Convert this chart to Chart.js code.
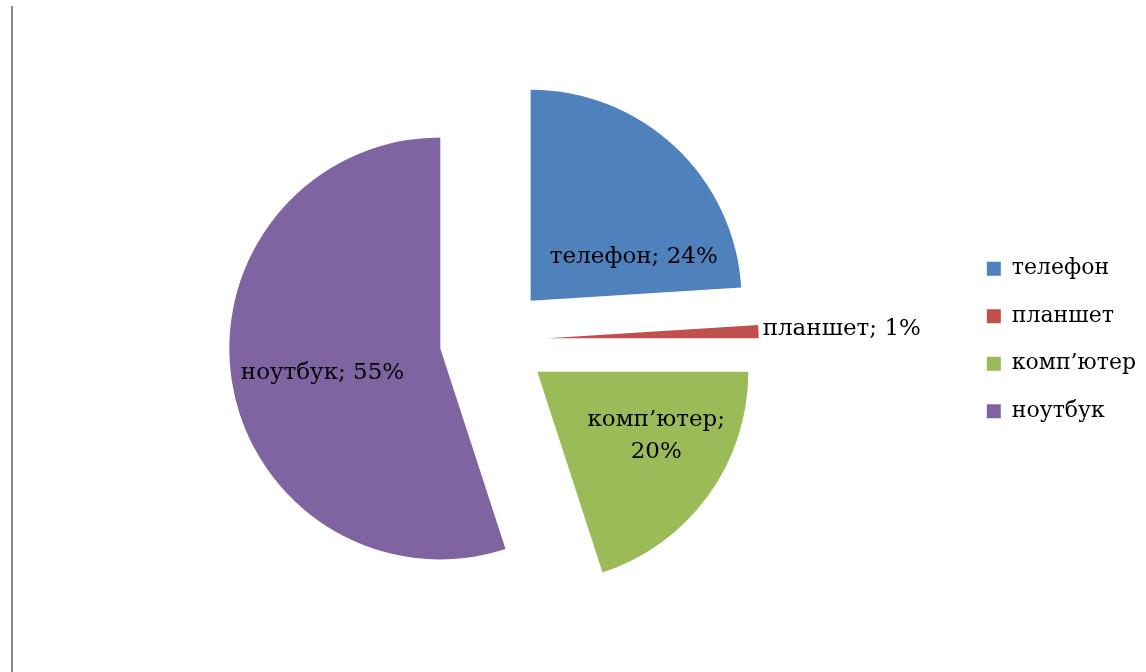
<!DOCTYPE html>
<html>
<head>
<meta charset="utf-8">
<script src="https://cdn.jsdelivr.net/npm/chart.js@4.4.1/dist/chart.umd.min.js"></script>
<style>
    html, body { margin: 0; padding: 0; background: #fff; }
    #wrap { position: relative; width: 1146px; height: 672px; }
    #frame { position: absolute; left: 11px; top: 6px; bottom: 0; width: 2px; background: #898989; }
    #chart { position: absolute; left: 0; top: 0; }
</style>
</head>
<body>
<div id="wrap">
    <div id="frame"></div>
    <canvas id="chart" width="1146" height="672"></canvas>
</div>
<script>
const categories = ['телефон', 'планшет', 'комп’ютер', 'ноутбук'];
const shares = [24, 1, 20, 55]; // %
const colors = ['#4f81bd', '#c0504d', '#9bbb59', '#8064a2'];

const EXPLODE = 54; // px, every slice pulled out of the centre
const FONT = '"DejaVu Serif", serif';

// where each data label sits: angle clockwise from 12 o'clock, distance as part of radius
const labelSpots = [
    { angle: 67.3, dist: 0.53, align: 'center', wrap: false },
    { angle: 87.5, dist: 1.02, align: 'left', wrap: false },
    { angle: 118.3, dist: 0.64, align: 'center', wrap: true },
    { angle: 258.4, dist: 0.57, align: 'center', wrap: false }
];

// exploded pie: shift every arc along its middle angle
const arcDraw = Chart.ArcElement.prototype.draw;
Chart.ArcElement.prototype.draw = function (ctx) {
    const mid = (this.startAngle + this.endAngle) / 2;
    ctx.save();
    ctx.translate(Math.cos(mid) * EXPLODE, Math.sin(mid) * EXPLODE);
    arcDraw.call(this, ctx);
    ctx.restore();
};

const sliceLabels = {
    id: 'sliceLabels',
    afterDatasetsDraw(chart) {
        const ctx = chart.ctx;
        const meta = chart.getDatasetMeta(0);
        ctx.save();
        ctx.font = '23px ' + FONT;
        ctx.fillStyle = '#000';
        ctx.textBaseline = 'middle';
        meta.data.forEach((arc, i) => {
            const mid = (arc.startAngle + arc.endAngle) / 2;
            const cx = arc.x + Math.cos(mid) * EXPLODE;
            const cy = arc.y + Math.sin(mid) * EXPLODE;
            const spot = labelSpots[i];
            const a = (spot.angle - 90) * Math.PI / 180;
            const x = cx + Math.cos(a) * spot.dist * arc.outerRadius;
            const y = cy + Math.sin(a) * spot.dist * arc.outerRadius;
            ctx.textAlign = spot.align;
            if (spot.wrap) {
                ctx.fillText(categories[i] + ';', x, y - 16);
                ctx.fillText(shares[i] + '%', x, y + 16);
            } else {
                ctx.fillText(categories[i] + '; ' + shares[i] + '%', x, y);
            }
        });
        ctx.restore();
    }
};

new Chart(document.getElementById('chart').getContext('2d'), {
    type: 'pie',
    data: {
        labels: categories,
        datasets: [{
            data: shares,
            backgroundColor: colors,
            borderWidth: 0
        }]
    },
    options: {
        responsive: false,
        animation: false,
        layout: { padding: { left: 26, right: 0, top: 129, bottom: 121 } },
        plugins: {
            tooltip: { enabled: false },
            legend: {
                position: 'right',
                labels: {
                    font: { family: FONT, size: 22 },
                    color: '#000',
                    boxWidth: 14,
                    boxHeight: 14,
                    padding: 25.5
                }
            }
        }
    },
    plugins: [sliceLabels]
});
</script>
</body>
</html>
